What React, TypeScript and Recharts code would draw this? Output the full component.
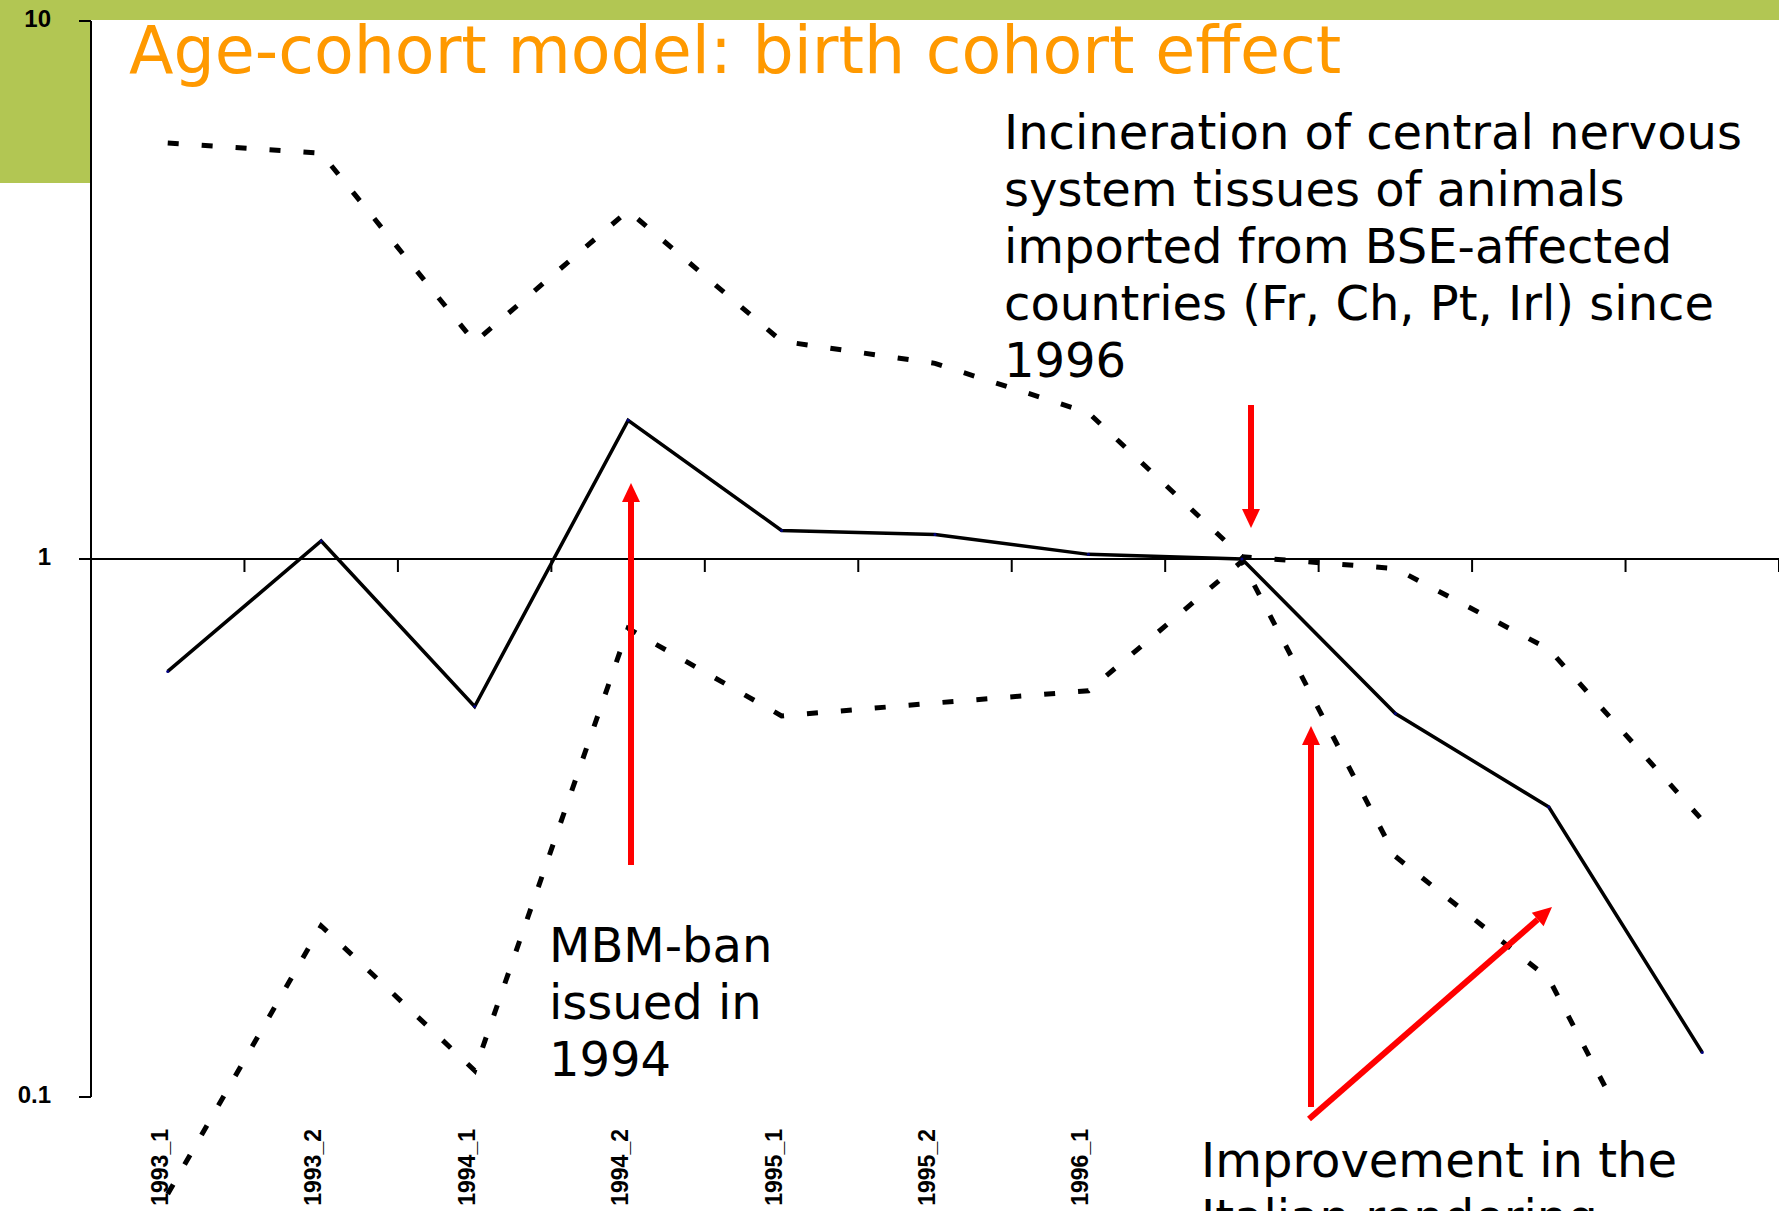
import React from "react";
import { LineChart, Line, XAxis, YAxis, ReferenceLine } from "recharts";

// birth cohorts (half-years)
const categories = [
  "1993_1", "1993_2", "1994_1", "1994_2", "1995_1", "1995_2",
  "1996_1", "1996_2", "1997_1", "1997_2", "1998_1"
];

// cohort effect (relative risk, ref = 1996_2) and its confidence limits
const cohortEffect = [0.618, 1.08, 0.532, 1.81, 1.13, 1.11, 1.02, 1.0, 0.516, 0.346, 0.121];
const upperLimit = [5.93, 5.68, 2.53, 4.44, 2.54, 2.31, 1.87, 1.01, 0.96, 0.68, 0.327];
const lowerLimit = [0.066, 0.208, 0.112, 0.743, 0.511, 0.54, 0.569, 0.99, 0.28, 0.166, 0.047];

const yTicks = [0.1, 1, 10];

const data = categories.map((name, i) => ({
  idx: i + 1,
  name,
  effect: cohortEffect[i],
  upper: upperLimit[i],
  lower: lowerLimit[i]
}));
const xTicks = data.map((d) => d.idx);
const bandEdges = categories.map((_, i) => i + 1.5);

const W = 1779;
const H = 1211;
const GREEN = "#B2C653";
const RED = "#FF0000";
const TEXT_FONT = "'DejaVu Sans', Verdana, sans-serif";
const AXIS_FONT = "'Liberation Sans', Arial, sans-serif";

const incinerationLines = [
  "Incineration of central nervous",
  "system tissues of animals",
  "imported from BSE-affected",
  "countries (Fr, Ch, Pt, Irl) since",
  "1996"
];
const mbmLines = ["MBM-ban", "issued in", "1994"];
const renderingLines = ["Improvement in the", "Italian rendering"];

const XTick = ({ x, y, payload }: any) => (
  <text
    x={x}
    y={y}
    transform={`rotate(-90, ${x}, ${y})`}
    textAnchor="end"
    fontFamily={AXIS_FONT}
    fontWeight="bold"
    fontSize={23}
    fill="#000"
  >
    {categories[payload.value - 1]}
  </text>
);

const EdgeTick = (p: any) => (
  <line x1={p.x1} y1={p.y1} x2={p.x1} y2={p.y1 + 13} stroke="#000" strokeWidth={2} />
);

const Arrow = ({ x1, y1, x2, y2 }: { x1: number; y1: number; x2: number; y2: number }) => {
  const a = Math.atan2(y2 - y1, x2 - x1);
  const len = 19;
  const half = 9;
  const bx = x2 - len * Math.cos(a);
  const by = y2 - len * Math.sin(a);
  const px = -Math.sin(a) * half;
  const py = Math.cos(a) * half;
  return (
    <g>
      <line x1={x1} y1={y1} x2={bx} y2={by} stroke={RED} strokeWidth={6} />
      <polygon points={`${x2},${y2} ${bx + px},${by + py} ${bx - px},${by - py}`} fill={RED} />
    </g>
  );
};

export default function App() {
  return (
    <div
      style={{
        position: "absolute",
        left: 0,
        top: 0,
        width: W,
        height: H,
        overflow: "hidden",
        background: "#fff"
      }}
    >
      <style>{`.recharts-wrapper [clip-path] { clip-path: none !important; }`}</style>

      {/* slide decoration */}
      <div style={{ position: "absolute", left: 0, top: 0, width: W, height: 20, background: GREEN }} />
      <div style={{ position: "absolute", left: 0, top: 0, width: 90, height: 183, background: GREEN }} />

      <div style={{ position: "absolute", left: 0, top: 0 }}>
        <LineChart width={W} height={H} data={data} margin={{ top: 21, right: 0, bottom: 0, left: 0 }}>
          <XAxis
            type="number"
            dataKey="idx"
            domain={[0.5, 11.5]}
            ticks={xTicks}
            interval={0}
            axisLine={false}
            tickLine={false}
            tickSize={0}
            tickMargin={32}
            height={114}
            tick={<XTick />}
          />
          <YAxis
            scale="log"
            domain={[0.1, 10]}
            allowDataOverflow
            ticks={yTicks}
            interval={0}
            width={91}
            axisLine={{ stroke: "#000", strokeWidth: 2 }}
            tickLine={{ stroke: "#000", strokeWidth: 2 }}
            tickSize={12}
            tickMargin={28}
            tickFormatter={(v: number) => String(v)}
            tick={{ fill: "#000", fontSize: 24, fontWeight: "bold", fontFamily: AXIS_FONT, dy: -3 }}
          />
          <ReferenceLine y={1} stroke="#000" strokeWidth={2} />
          {bandEdges.map((e) => (
            <ReferenceLine key={e} segment={[{ x: e, y: 1 }, { x: e, y: 1 }]} shape={EdgeTick} />
          ))}
          <Line
            dataKey="upper"
            type="linear"
            stroke="#000"
            strokeWidth={5}
            strokeDasharray="11 23"
            dot={false}
            isAnimationActive={false}
          />
          <Line
            dataKey="lower"
            type="linear"
            stroke="#000"
            strokeWidth={5}
            strokeDasharray="11 23"
            dot={false}
            isAnimationActive={false}
          />
          <Line
            dataKey="effect"
            type="linear"
            stroke="#000"
            strokeWidth={3.5}
            dot={{ r: 1.5, fill: "#000080", stroke: "none" }}
            isAnimationActive={false}
          />
        </LineChart>
      </div>

      {/* title and annotations */}
      <svg
        width={W}
        height={H}
        style={{ position: "absolute", left: 0, top: 0, pointerEvents: "none" }}
      >
        <text x={129} y={73} fontFamily={TEXT_FONT} fontSize={65} fill="#FF9900">
          Age-cohort model: birth cohort effect
        </text>

        {incinerationLines.map((t, i) => (
          <text key={t} x={1004} y={149 + i * 57} fontFamily={TEXT_FONT} fontSize={48} fill="#000">
            {t}
          </text>
        ))}

        {mbmLines.map((t, i) => (
          <text key={t} x={549} y={962 + i * 57} fontFamily={TEXT_FONT} fontSize={48} fill="#000">
            {t}
          </text>
        ))}

        <rect x={1190} y={1102} width={W - 1190} height={H - 1102} fill="#fff" />
        {renderingLines.map((t, i) => (
          <text key={t} x={1201} y={1177 + i * 57} fontFamily={TEXT_FONT} fontSize={48} fill="#000">
            {t}
          </text>
        ))}

        <Arrow x1={631} y1={865} x2={631} y2={483} />
        <Arrow x1={1251} y1={405} x2={1251} y2={528} />
        <Arrow x1={1311} y1={1107} x2={1311} y2={726} />
        <Arrow x1={1309} y1={1119} x2={1552} y2={907} />
      </svg>
    </div>
  );
}
